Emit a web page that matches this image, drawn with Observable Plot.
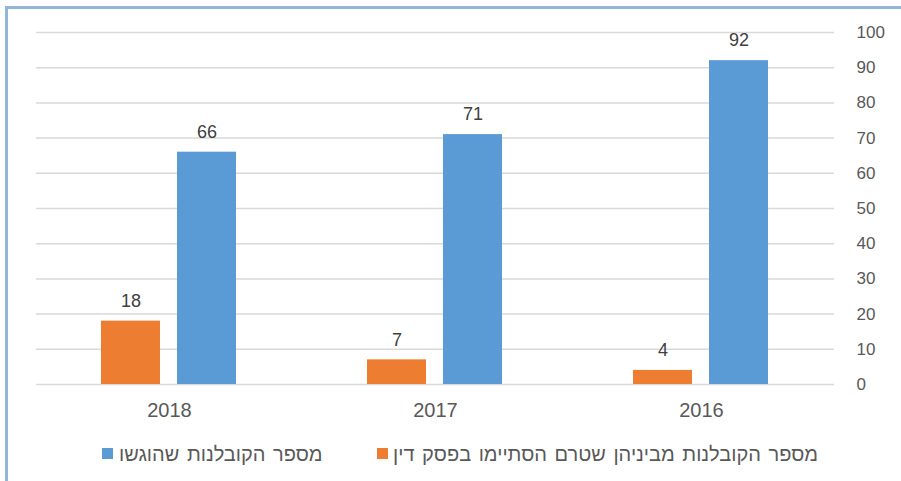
<!DOCTYPE html>
<html>
<head>
<meta charset="utf-8">
<script src="https://cdn.jsdelivr.net/npm/d3@7"></script>
<script src="https://cdn.jsdelivr.net/npm/@observablehq/plot@0.6"></script>
<style>
  html, body { margin: 0; padding: 0; background: #fff; }
  body { width: 901px; height: 481px; position: relative; overflow: hidden; font-family: "Liberation Sans", Arial, "DejaVu Sans", sans-serif; }
  #frame { position: absolute; left: 5px; top: 6px; width: 920px; height: 500px; border: 3px solid #92b6da; box-sizing: border-box; }
  #chart { position: absolute; left: 0; top: 0; }
  #legend { position: absolute; left: 0; top: 440px; width: 901px; height: 28px; font-size: 20px; color: #595959; }
  .sw { position: absolute; top: 8px; width: 11px; height: 11px; }
  .lt { position: absolute; top: 0; white-space: nowrap; direction: rtl; line-height: 28px; word-spacing: 2px; }
</style>
</head>
<body>
<div id="frame"></div>
<div id="chart"></div>
<div id="legend"></div>
<script>
const years = ["2018", "2017", "2016"];
const seriesNames = ["מספר הקובלנות מביניהן שטרם הסתיימו בפסק דין", "מספר הקובלנות שהוגשו"];
const pendingValues = [18, 7, 4];
const filedValues = [66, 71, 92];
const yTicks = [0, 10, 20, 30, 40, 50, 60, 70, 80, 90, 100];
const colors = ["#ED7D31", "#5B9BD5"];

const data = [];
years.forEach((yr, i) => {
  data.push({year: yr, series: seriesNames[0], value: pendingValues[i]});
  data.push({year: yr, series: seriesNames[1], value: filedValues[i]});
});

const plot = Plot.plot({
  width: 901,
  height: 430,
  marginLeft: 35,
  marginRight: 66,
  marginTop: 32,
  marginBottom: 46,
  style: {fontFamily: '"Liberation Sans", Arial, sans-serif', color: "#595959", background: "transparent"},
  fx: {domain: years, padding: 0},
  x: {domain: seriesNames, paddingInner: 0.22, paddingOuter: 0.842, axis: null},
  y: {domain: [0, 100]},
  color: {domain: seriesNames, range: colors},
  marks: [
    Plot.ruleY(yTicks, {stroke: "#d9d9d9", strokeWidth: 1.5}),
    Plot.barY(data, {fx: "year", x: "series", y: "value", fill: "series"}),
    Plot.text(data, {fx: "year", x: "series", y: "value", text: d => String(d.value), dy: -20, fontSize: 18, fill: "#404040"}),
    Plot.axisY(yTicks, {anchor: "right", tickSize: 0, tickPadding: 22, fontSize: 17, label: null}),
    Plot.axisFx({anchor: "bottom", tickSize: 0, tickPadding: 18, fontSize: 20, label: null})
  ]
});
document.getElementById("chart").appendChild(plot);

const legend = document.getElementById("legend");
const items = [
  {name: seriesNames[1], color: colors[1], swLeft: 102, textLeft: 119},
  {name: seriesNames[0], color: colors[0], swLeft: 377, textLeft: 393}
];
items.forEach(it => {
  const sw = document.createElement("div");
  sw.className = "sw";
  sw.style.left = it.swLeft + "px";
  sw.style.background = it.color;
  legend.appendChild(sw);
  const t = document.createElement("div");
  t.className = "lt";
  t.style.left = it.textLeft + "px";
  t.textContent = it.name;
  legend.appendChild(t);
});
</script>
</body>
</html>
